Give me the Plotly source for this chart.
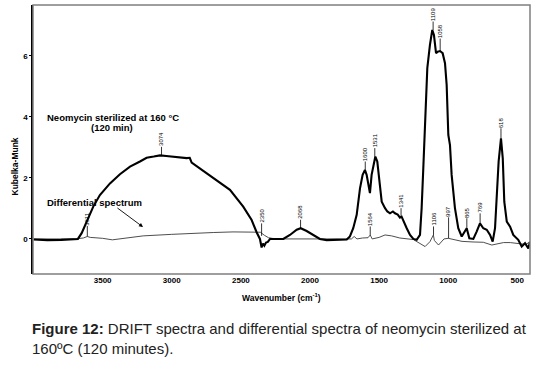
import plotly.graph_objects as go

# ---- data ----
main_wn = [4000, 3900, 3800, 3700, 3679, 3652, 3616, 3568, 3520, 3447, 3375, 3302, 3230, 3182,
           3130, 3085, 3040, 2989, 2940, 2892, 2870, 2856, 2772, 2675, 2579, 2483, 2422, 2386,
           2362, 2350, 2340, 2330, 2318, 2305, 2289, 2193, 2145, 2096, 2067, 2024, 1976, 1928,
           1879, 1807, 1734, 1711, 1687, 1662, 1638, 1619, 1602, 1590, 1578, 1566, 1554, 1542,
           1527, 1513, 1498, 1481, 1457, 1440, 1421, 1400, 1385, 1365, 1349, 1337, 1300, 1276,
           1252, 1228, 1204, 1192, 1180, 1167, 1151, 1132, 1115, 1103, 1088, 1076, 1059, 1040,
           1023, 1011, 999, 987, 975, 951, 927, 902, 886, 866, 847, 818, 794, 770, 746, 721,
           697, 678, 661, 649, 635, 618, 605, 594, 576, 552, 529, 493, 468, 444, 420, 408]
main_km = [-0.02, -0.04, -0.03, -0.01, 0.0, 0.19, 0.57, 1.06, 1.44, 1.82, 2.12, 2.37, 2.54, 2.66,
           2.70, 2.74, 2.72, 2.69, 2.67, 2.65, 2.66, 2.50, 2.23, 1.93, 1.61, 1.06, 0.62, 0.22,
           0.0, -0.28, -0.15, -0.22, -0.12, -0.10, 0.0, 0.0, 0.13, 0.30, 0.35, 0.26, 0.13, 0.0,
           -0.04, -0.04, -0.02, 0.08, 0.35, 0.79, 1.66, 2.10, 2.26, 2.10, 1.72, 1.50, 2.10, 2.43,
           2.70, 2.54, 1.88, 1.22, 1.01, 0.90, 0.84, 0.90, 0.84, 0.80, 0.70, 0.73, 0.35, 0.13,
           0.0, -0.03, 0.13, 1.01, 2.32, 3.96, 5.60, 6.36, 6.85, 6.69, 6.09, 6.14, 6.16, 6.09,
           5.76, 5.05, 3.41, 3.08, 2.10, 1.01, 0.35, 0.08, 0.19, 0.35, 0.02, 0.0, 0.24, 0.51, 0.35, 0.30,
           0.13, -0.09, 0.35, 1.22, 2.54, 3.30, 2.64, 1.22, 0.57, 0.40, 0.13, -0.03, -0.25, -0.14, -0.31, -0.09]

diff_wn = [4000, 3700, 3640, 3611, 3590, 3500, 3430, 3350, 3207, 3000, 2892, 2700, 2557, 2400,
           2359, 2330, 2300, 2250, 1700, 1680, 1660, 1620, 1580, 1564, 1550, 1500, 1457, 1409,
           1350, 1252, 1204, 1167, 1132, 1107, 1100, 1070, 1030, 999, 950, 900, 820, 746, 684,
           650, 600, 550, 493, 440, 408]
diff_km = [0.0, 0.0, 0.03, 0.08, 0.05, 0.02, -0.03, 0.02, 0.10, 0.15, 0.18, 0.21, 0.23, 0.23,
           0.22, 0.12, 0.04, 0.0, 0.0, 0.08, 0.0, 0.03, 0.04, 0.13, 0.0, 0.05, 0.13, 0.10,
           0.03, -0.02, -0.14, -0.25, -0.09, 0.13, -0.05, -0.20, 0.0, 0.02, -0.03, -0.08, -0.10, -0.11, -0.20,
           -0.17, -0.12, -0.12, -0.15, -0.18, -0.10]

peak_labels = ["3611", "3074", "2350", "2068", "1600", "1531", "1564", "1341",
               "1106", "1109", "1058", "997", "865", "769", "618"]
peak_wn = [3611, 3074, 2350, 2068, 1600, 1531, 1564, 1341, 1106, 1109, 1058, 997, 865, 769, 618]
peak_km = [0.08, 2.74, 0.10, 0.35, 2.26, 2.70, 0.13, 0.73, 0.13, 6.85, 6.16, 0.02, 0.35, 0.51, 3.30]

x_ticks = [3500, 3000, 2500, 2000, 1500, 1000, 500]
y_ticks = [0, 2, 4, 6]

# ---- styling ----
FONT = "Liberation Sans, Arial, sans-serif"
peak_offsets = {"997": -27, "2350": -20, "3611": -18, "1058": -20}

fig = go.Figure()
fig.add_trace(go.Scatter(x=diff_wn, y=diff_km, mode="lines",
                         line=dict(color="#3a3a3a", width=0.9), hoverinfo="skip"))
fig.add_trace(go.Scatter(x=main_wn, y=main_km, mode="lines",
                         line=dict(color="#000000", width=2.1), hoverinfo="skip"))

ann = []
for lab, xw, yk in zip(peak_labels, peak_wn, peak_km):
    ann.append(dict(x=xw, y=yk, xref="x", yref="y", text=lab, textangle=-90,
                    showarrow=True, arrowhead=0, arrowwidth=0.8, arrowcolor="#000",
                    ax=0, ay=peak_offsets.get(lab, -16), borderpad=0, standoff=0,
                    font=dict(family=FONT, size=6, color="#000")))

ann.append(dict(x=3918, y=3.97, xref="x", yref="y", xanchor="left", yanchor="middle",
                text="<b>Neomycin sterilized at 160 °C</b>", showarrow=False,
                font=dict(family=FONT, size=9.5, color="#000")))
ann.append(dict(x=3433, y=3.64, xref="x", yref="y", xanchor="center", yanchor="middle",
                text="<b>(120 min)</b>", showarrow=False,
                font=dict(family=FONT, size=9.5, color="#000")))
ann.append(dict(x=3918, y=1.21, xref="x", yref="y", xanchor="left", yanchor="middle",
                text="<b>Differential spectrum</b>", showarrow=False,
                font=dict(family=FONT, size=9.5, color="#000")))
ann.append(dict(x=3208, y=0.39, xref="x", yref="y", ax=3404, ay=1.05, axref="x", ayref="y",
                text=" ", showarrow=True, arrowhead=2, arrowsize=0.9, arrowwidth=0.9,
                arrowcolor="#000", font=dict(size=1)))
ann.append(dict(x=-0.036, y=0.40, xref="paper", yref="paper", text="<b>Kubelka-Munk</b>",
                textangle=-90, showarrow=False, xanchor="center", yanchor="middle",
                font=dict(family=FONT, size=8.5, color="#000")))
ann.append(dict(x=0.5, y=-0.087, xref="paper", yref="paper",
                text="<b>Wavenumber (cm<sup>-1</sup>)</b>", showarrow=False,
                xanchor="center", yanchor="middle",
                font=dict(family=FONT, size=8.5, color="#000")))
ann.append(dict(x=-0.006, y=-0.165, xref="paper", yref="paper", xanchor="left", yanchor="top",
                align="left", showarrow=False,
                text="<b>Figure 12:</b> DRIFT spectra and differential spectra of neomycin sterilized at<br>"
                     "160ºC (120 minutes).",
                font=dict(family=FONT, size=15, color="#222")))

fig.update_layout(
    width=538, height=365,
    margin=dict(l=33, r=8, t=5, b=91),
    paper_bgcolor="white", plot_bgcolor="white",
    showlegend=False,
    annotations=ann,
    shapes=[dict(type="rect", xref="paper", yref="paper", x0=0, x1=1, y0=0, y1=1,
                 line=dict(color="#7f7f7f", width=1.5), layer="above")],
    xaxis=dict(range=[4004, 408], showgrid=False, zeroline=False,
               tickvals=x_ticks, ticktext=[f"<b>{v}</b>" for v in x_ticks],
               ticks="", tickfont=dict(family=FONT, size=8, color="#000"),
               showline=False),
    yaxis=dict(range=[-1.15, 7.67], showgrid=False, zeroline=False,
               tickvals=y_ticks, ticktext=[f"<b>{v}</b>" for v in y_ticks],
               ticks="outside", ticklen=2, tickcolor="#000",
               tickfont=dict(family=FONT, size=8, color="#000"),
               showline=True, linecolor="#000", linewidth=1.5, mirror=False),
)

fig.write_html("out.html", config={"displayModeBar": False},
               post_script="document.body.style.margin='0px';document.body.style.overflow='hidden';")
